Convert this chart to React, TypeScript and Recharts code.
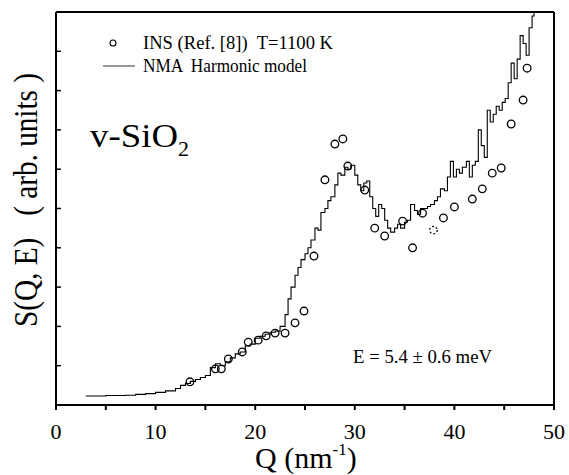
import { ComposedChart, Line, Scatter, XAxis, YAxis } from 'recharts';

// NMA harmonic model, S(Q,E) in arb. units
const nmaQ = [
  3, 4, 5, 6, 7, 8, 9, 10, 11, 12, 12.5, 13, 13.5, 14, 14.5, 15, 15.5, 16, 16.5, 17,
  17.5, 18, 18.5, 19, 19.5, 20, 20.5, 21, 21.5, 22, 22.5, 23, 23.3, 23.6, 24, 24.3, 24.6, 25, 25.3, 25.6,
  26, 26.3, 26.6, 27, 27.3, 27.6, 28, 28.3, 28.6, 29, 29.3, 29.6, 30, 30.3, 30.6, 30.9, 31.2, 31.5, 31.8, 32.1,
  32.4, 32.7, 33, 33.3, 33.6, 34, 34.3, 34.6, 35, 35.3, 35.6, 36, 36.3, 36.6, 37, 37.3, 37.6, 38, 38.3, 38.6,
  39, 39.3, 39.6, 39.9, 40.2, 40.5, 40.8, 41.2, 41.5, 41.8, 42.1, 42.4, 42.7, 43, 43.3, 43.6, 43.9, 44.2, 44.5, 44.8,
  45.1, 45.4, 45.7, 46, 46.3, 46.6, 46.9, 47.2, 47.5, 47.8, 48,
];
const nmaS = [
  0.23, 0.23, 0.24, 0.24, 0.25, 0.27, 0.29, 0.32, 0.36, 0.42, 0.5, 0.55, 0.6, 0.65, 0.7, 0.75, 0.95, 1.05, 1.0, 1.1,
  1.2, 1.3, 1.35, 1.5, 1.55, 1.7, 1.75, 1.8, 1.85, 1.88, 2.0, 2.3, 2.7, 3.0, 3.3, 3.5, 3.7, 3.85, 4.0, 4.2,
  4.5, 4.45, 4.9, 5.0, 5.2, 5.3, 5.6, 5.9, 5.85, 6.05, 6.0, 6.1, 5.85, 5.6, 5.45, 5.65, 5.7, 5.3, 5.0, 4.8,
  5.1, 5.0, 4.7, 4.5, 4.4, 4.5, 4.6, 4.5, 4.65, 4.7, 5.1, 4.95, 4.85, 5.0, 5.0, 5.05, 5.1, 5.2, 5.3, 5.5,
  5.45, 5.8, 6.2, 5.8, 6.0, 5.9, 6.05, 6.2, 5.8, 6.1, 6.2, 7.0, 6.6, 6.3, 7.5, 7.2, 7.4, 7.6, 7.5, 7.7,
  7.8, 8.2, 8.7, 8.3, 8.8, 9.4, 9.2, 8.9, 9.6, 9.9, 10.2,
];

// INS data, T = 1100 K
const insQ = [
  13.45, 16.0, 16.6, 17.3, 18.7, 19.3, 20.3, 21.1, 22.0, 23.0, 24.0, 24.9, 25.9, 27.0, 28.0, 28.8, 29.3,
  31.0, 32.0, 33.0, 34.8, 35.8, 36.8, 38.9, 40.0, 41.8, 42.8, 43.8, 44.7, 45.7, 46.9, 47.3,
];
const insS = [
  0.59, 0.92, 0.92, 1.17, 1.35, 1.6, 1.65, 1.76, 1.83, 1.83, 2.09, 2.39, 3.79, 5.73, 6.64, 6.77, 6.08,
  5.47, 4.5, 4.3, 4.68, 4.0, 4.88, 4.76, 5.04, 5.24, 5.5, 5.9, 6.03, 7.15, 7.76, 8.57,
];
// faint (uncertain) INS point
const insFaintQ = [37.9];
const insFaintS = [4.45];

const xTicks = [0, 5, 10, 15, 20, 25, 30, 35, 40, 45, 50];
const yTicks = [0, 1, 2, 3, 4, 5, 6, 7, 8, 9, 10];

const nmaData = nmaQ.map((q, i) => ({ q, s: nmaS[i] }));
const insData = insQ.map((q, i) => ({ q, s: insS[i] }));
const insFaintData = insFaintQ.map((q, i) => ({ q, s: insFaintS[i] }));

const serif = '"Liberation Serif", "DejaVu Serif", serif';

function OpenCircle(props: any) {
  return <circle cx={props.cx} cy={props.cy} r={3.8} fill="none" stroke="#000" strokeWidth={1.3} />;
}

function DashedCircle(props: any) {
  return (
    <circle cx={props.cx} cy={props.cy} r={3.8} fill="none" stroke="#000" strokeWidth={1.2} strokeDasharray="2 2" />
  );
}

function BottomTick(props: any) {
  const { x, y, payload } = props;
  if (payload.value % 10 !== 0) return null;
  return (
    <text x={x} y={y} dy={27} textAnchor="middle" fontFamily={serif} fontSize={22} fill="#000">
      {payload.value}
    </text>
  );
}

// inward tick marks for the frame axes (no labels)
function LeftTick(props: any) {
  return <line x1={props.x} x2={props.x + 5} y1={props.y} y2={props.y} stroke="#000" strokeWidth={1.5} />;
}
function RightTick(props: any) {
  return <line x1={props.x} x2={props.x - 5} y1={props.y} y2={props.y} stroke="#000" strokeWidth={1.5} />;
}
function TopTick(props: any) {
  return <line x1={props.x} x2={props.x} y1={props.y} y2={props.y + 5} stroke="#000" strokeWidth={1.5} />;
}

export default function App() {
  return (
    <div style={{ position: 'absolute', left: 0, top: 0, width: 569, height: 475, background: '#fff' }}>
      <ComposedChart width={569} height={475} margin={{ top: 0, right: 0, left: 0, bottom: 40 }}>
        <XAxis
          dataKey="q"
          type="number"
          domain={[0, 50]}
          ticks={xTicks}
          tick={<BottomTick />}
          tickSize={5}
          tickMargin={2}
          height={30}
          stroke="#000"
          strokeWidth={2}
          allowDataOverflow
        />
        <XAxis
          xAxisId="top"
          orientation="top"
          type="number"
          domain={[0, 50]}
          ticks={xTicks}
          tick={<TopTick />}
          tickLine={false}
          tickSize={0}
          tickMargin={0}
          height={12}
          stroke="#000"
          strokeWidth={2}
        />
        <YAxis
          type="number"
          domain={[0, 10]}
          ticks={yTicks}
          tick={<LeftTick />}
          tickLine={false}
          tickSize={0}
          tickMargin={0}
          width={56}
          stroke="#000"
          strokeWidth={2}
          allowDataOverflow
        />
        <YAxis
          yAxisId="right"
          orientation="right"
          type="number"
          domain={[0, 10]}
          ticks={yTicks}
          tick={<RightTick />}
          tickLine={false}
          tickSize={0}
          tickMargin={0}
          width={15}
          stroke="#000"
          strokeWidth={2}
        />
        <Line
          data={nmaData}
          dataKey="s"
          type="stepAfter"
          stroke="#000"
          strokeWidth={1.1}
          dot={false}
          isAnimationActive={false}
        />
        <Scatter data={insData} dataKey="s" shape={<OpenCircle />} isAnimationActive={false} />
        <Scatter data={insFaintData} dataKey="s" shape={<DashedCircle />} isAnimationActive={false} />
      </ComposedChart>

      <svg
        width={569}
        height={475}
        style={{ position: 'absolute', left: 0, top: 0, pointerEvents: 'none' }}
        fontFamily={serif}
        fill="#000"
      >
        {/* legend */}
        <circle cx={113} cy={43} r={3} fill="none" stroke="#000" strokeWidth={1.1} />
        <text x={143} y={49} fontSize={18} textLength={190} lengthAdjust="spacingAndGlyphs" style={{ whiteSpace: 'pre' }}>
          {'INS (Ref. [8])  T=1100 K'}
        </text>
        <line x1={103} x2={135} y1={66} y2={66} stroke="#333" strokeWidth={1} />
        <text x={143} y={72} fontSize={18} textLength={164} lengthAdjust="spacingAndGlyphs" style={{ whiteSpace: 'pre' }}>
          {'NMA  Harmonic model'}
        </text>

        <text x={90} y={147} fontSize={33}>
          <tspan textLength={88} lengthAdjust="spacingAndGlyphs">v-SiO</tspan>
          <tspan fontSize={22} dy={9}>2</tspan>
        </text>

        <text x={353} y={363} fontSize={19} textLength={139} lengthAdjust="spacingAndGlyphs">
          E = 5.4 ± 0.6 meV
        </text>

        <text
          x={0}
          y={0}
          transform="translate(37 200) rotate(-90)"
          textAnchor="middle"
          fontSize={34}
          textLength={254}
          lengthAdjust="spacingAndGlyphs"
          style={{ whiteSpace: 'pre' }}
        >
          {'S(Q, E)   ( arb. units )'}
        </text>

        <text x={255} y={468} fontSize={30}>
          Q (nm
          <tspan fontSize={17} dy={-13}>-1</tspan>
          <tspan dy={13}>)</tspan>
        </text>
      </svg>
    </div>
  );
}
